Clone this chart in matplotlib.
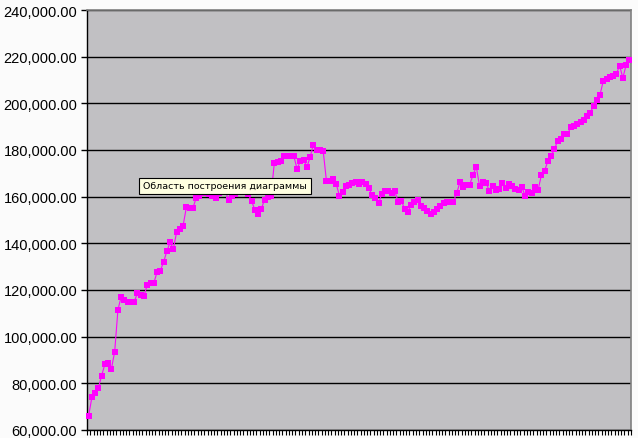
import matplotlib
matplotlib.use("Agg")
import matplotlib.pyplot as plt
from matplotlib.ticker import FuncFormatter, FixedLocator

# ---- data ----
values = [
    66100, 74000, 76000, 78100, 83300, 88300, 88600, 86200, 93600, 111600,
    117100, 115800, 115000, 115000, 115000, 118700, 117900, 117600, 122100, 123000,
    123000, 127600, 128300, 131900, 136600, 140400, 137600, 144700, 146100, 147600,
    155400, 155100, 155100, 159400, 160400,
    161500, 162000, 161000, 160500, 159400, 161500, 162500, 162000, 158700, 160400,
    161200, 162000, 162500, 162000, 161000,
    158300, 154400, 152600, 154700, 158700, 159900, 160500, 174400, 174900, 175300,
    177400, 177400, 177400, 177300, 171900, 175300, 175900, 172700, 177000, 182300,
    180100, 179800, 179700, 166800, 166800, 167600, 165400, 160400, 161900, 164700,
    165100, 165800, 166200, 165400, 166200, 165500, 163700, 160700, 159400, 157300,
    161100, 162300, 162300, 161600, 162300, 157900, 158300, 154700, 153600, 156500,
    157800, 158600, 156100, 155000, 153800, 152600, 153600, 154700, 155900, 157200,
    157600, 157600, 157900, 161600, 166200, 164000, 165100, 165200, 169300, 172800,
    164700, 166200, 165900, 162600, 164400, 163000, 163500, 165700, 163700, 165400,
    164500, 163300, 163000, 164000, 160400, 162100, 161600, 164000, 163000, 169300,
    171100, 175400, 177500, 180400, 184000, 184700, 186800, 186800, 189700, 190100,
    191100, 192000, 193000, 194700, 195900, 199000, 201400, 203700, 209700, 210400,
    211100, 211800, 212600, 216100, 210900, 216400, 218600,
]
categories = list(range(1, len(values) + 1))
y_ticks = [60000, 80000, 100000, 120000, 140000, 160000, 180000, 200000, 220000, 240000]
tooltip_text = "Область построения диаграммы"

W, H = 638, 439
fig = plt.figure(figsize=(W / 100, H / 100), dpi=100)
fig.patch.set_facecolor("#fbfbfb")

left, right, top, bottom = 87, 631, 11, 431
ax = fig.add_axes([left / W, (H - bottom) / H, (right - left) / W, (bottom - top) / H])
ax.set_facecolor("#c1c0c3")

x = list(range(len(categories)))
ax.plot(x, values, color="#ff00ff", lw=0.8, marker="s", markersize=4.4,
        markeredgewidth=0, markerfacecolor="#ff00ff", zorder=3, clip_on=False)

ax.set_xlim(-0.5, len(categories) - 0.5)
ax.set_ylim(y_ticks[0], y_ticks[-1])
ax.yaxis.set_major_locator(FixedLocator(y_ticks))
ax.yaxis.set_major_formatter(FuncFormatter(lambda v, p: f"{v:,.2f}"))
ax.xaxis.set_major_locator(FixedLocator([i - 0.5 for i in range(len(categories) + 1)]))
ax.set_xticklabels([])

ax.grid(axis="y", color="black", lw=1.0)
ax.set_axisbelow(True)

for s in ("left", "bottom"):
    ax.spines[s].set_color("black")
    ax.spines[s].set_linewidth(1.0)
for s in ("top", "right"):
    ax.spines[s].set_color("#808080")
    ax.spines[s].set_linewidth(1.2)

ax.tick_params(axis="y", direction="out", length=4, width=1, color="black",
               labelsize=10.5, pad=3)
ax.tick_params(axis="x", direction="out", length=3.5, width=0.8, color="black")
for lab in ax.get_yticklabels():
    lab.set_fontfamily("Liberation Sans")

# tooltip box
fig.text(143 / W, (H - 187) / H, tooltip_text, fontsize=6.8, family="DejaVu Sans",
         va="center", ha="left", color="black", zorder=10,
         bbox=dict(boxstyle="square,pad=0.4", facecolor="#ffffe1", edgecolor="black", lw=0.8))

fig.savefig("out.png", dpi=100, facecolor=fig.get_facecolor())
